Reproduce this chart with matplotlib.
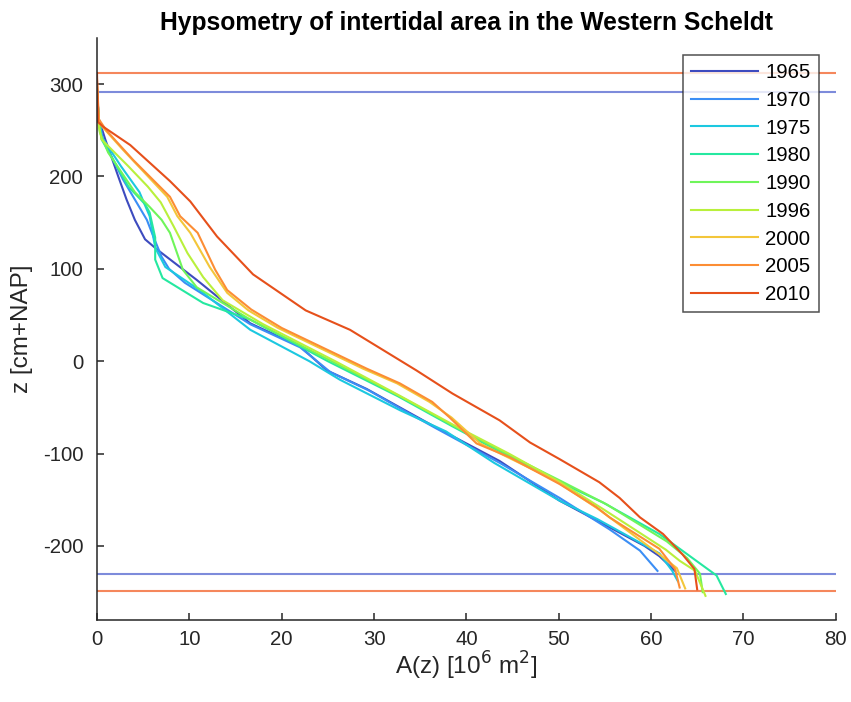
import matplotlib
matplotlib.use("Agg")
import matplotlib.pyplot as plt

plt.rcParams['font.family'] = ['Liberation Sans', 'DejaVu Sans']
plt.rcParams['axes.unicode_minus'] = False

years = ["1965", "1970", "1975", "1980", "1990", "1996", "2000", "2005", "2010"]
colors = ["#3d4bbf", "#3b8ef5", "#1cc8e0", "#25e8a0", "#6ff55a",
          "#b9f03c", "#f3c63a", "#fc8d34", "#e6501b"]

z_1965 = [291, 262, 240, 200, 175, 153, 132, 121, 88, 41, 16, -10, -30, -50, -70, -108, -151, -200, -211, -227]
a_1965 = [0, 0.2, 0.9, 2.3, 3.2, 4.1, 5.2, 6.5, 10.8, 16.6, 22.0, 24.9, 29.2, 32.8, 36.4, 43.6, 50.1, 59.3, 60.9, 62.6]

z_1970 = [291, 262, 240, 197, 175, 153, 135, 113, 100, 85, 40, 15, -12, -32, -52, -72, -110, -148, -182, -205, -227]
a_1970 = [0, 0.2, 0.65, 2.8, 4.1, 5.4, 6.1, 7.0, 7.8, 9.5, 16.6, 22.0, 25.3, 29.5, 33.0, 36.6, 43.6, 50.1, 55.5, 58.8, 60.7]

z_1975 = [291, 262, 243, 211, 183, 157, 123, 102, 77, 34, 0, -20, -53, -76, -110, -151, -171, -208, -227, -238]
a_1975 = [0, 0.2, 0.5, 2.6, 4.6, 5.7, 6.3, 7.4, 11.1, 16.6, 23.0, 26.3, 32.8, 37.8, 43.0, 50.1, 54.2, 60.9, 62.3, 62.9]

z_1980 = [291, 262, 240, 189, 170, 161, 134, 110, 90, 63, 45, 0, -38, -70, -100, -131, -153, -187, -232, -252]
a_1980 = [0, 0.2, 0.5, 3.4, 5.2, 5.7, 6.3, 6.3, 7.1, 11.5, 16.6, 25.0, 32.6, 38.4, 44.0, 50.1, 54.8, 60.9, 67.1, 68.1]

z_1990 = [295, 255, 248, 226, 183, 167, 153, 139, 99, 80, 45, 0, -38, -70, -100, -129, -155, -195, -213, -230, -250]
a_1990 = [0, 0.2, 0.3, 1.2, 4.1, 5.7, 7.0, 7.9, 9.3, 10.8, 16.6, 25.4, 32.8, 38.6, 44.3, 50.1, 55.2, 61.7, 63.9, 65.3, 65.6]

z_1996 = [295, 255, 240, 211, 189, 172, 146, 117, 91, 66, 40, 0, -38, -70, -100, -130, -160, -204, -216, -227, -235, -254]
a_1996 = [0, 0.2, 0.5, 3.4, 5.5, 6.9, 8.3, 9.8, 11.5, 13.6, 18.0, 25.8, 32.9, 38.8, 44.6, 50.0, 54.8, 61.6, 63.1, 64.8, 65.1, 65.9]

z_2000 = [300, 258, 229, 178, 157, 139, 102, 74, 55, 36, -8, -24, -44, -61, -89, -104, -129, -160, -209, -224, -246]
a_2000 = [0, 0.2, 2.8, 7.6, 8.7, 10.1, 12.2, 14.1, 16.4, 19.6, 28.8, 32.5, 36.0, 38.4, 41.5, 44.5, 49.6, 54.3, 60.9, 62.8, 63.7]

z_2005 = [305, 262, 250, 218, 178, 157, 139, 99, 77, 56, 36, -8, -24, -44, -61, -89, -104, -133, -158, -169, -203, -225, -245]
a_2005 = [0, 0.2, 1.0, 3.9, 7.9, 9.0, 10.9, 12.8, 14.1, 16.7, 20.0, 29.2, 32.8, 36.3, 38.2, 41.1, 44.7, 50.1, 54.1, 55.5, 60.9, 62.6, 63.1]

z_2010 = [312, 259, 254, 234, 195, 173, 135, 94, 55, 34, 12, -10, -35, -64, -88, -106, -131, -148, -169, -187, -209, -225, -247]
a_2010 = [0, 0.1, 0.65, 3.6, 7.9, 10.1, 13.0, 16.9, 22.6, 27.4, 31.0, 34.6, 38.5, 43.6, 46.9, 50.1, 54.4, 56.6, 58.8, 61.3, 63.4, 64.7, 65.0]

z_series = [z_1965, z_1970, z_1975, z_1980, z_1990, z_1996, z_2000, z_2005, z_2010]
a_series = [a_1965, a_1970, a_1975, a_1980, a_1990, a_1996, a_2000, a_2005, a_2010]

# reference levels (horizontal lines)
levels_blue = [291, -230]
levels_orange = [312, -249]

fig = plt.figure(figsize=(8.51, 7.02), dpi=100)
ax = fig.add_axes([0.114, 0.117, 0.868, 0.829])

for lv in levels_orange:
    ax.axhline(lv, color="#f47a4a", lw=1.5, alpha=0.9, zorder=1)
for lv in levels_blue:
    ax.axhline(lv, color="#6f7fd8", lw=1.5, alpha=0.9, zorder=1)

for yr, c, a, z in zip(years, colors, a_series, z_series):
    ax.plot(a, z, color=c, lw=1.5, label=yr, zorder=2)

ax.set_xlim(0, 80)
ax.set_ylim(-280, 350)
ax.set_xticks(range(0, 81, 10))
ax.set_yticks(range(-200, 301, 100))

for s in ["top", "right"]:
    ax.spines[s].set_visible(False)
for s in ["left", "bottom"]:
    ax.spines[s].set_color("#262626")
    ax.spines[s].set_linewidth(1.1)
ax.tick_params(direction="in", length=5, width=1.1, colors="#262626",
               labelsize=14.7)
ax.tick_params(axis="y", pad=10)
ax.tick_params(axis="x", pad=7)

ax.set_xlabel("A(z) [10$^6$ m$^2$]", fontsize=17.5, color="#262626", labelpad=1)
ax.set_ylabel("z [cm+NAP]", fontsize=17.5, color="#262626", labelpad=7)
ax.set_title("Hypsometry of intertidal area in the Western Scheldt",
             fontsize=17.7, fontweight="bold", pad=6)

leg = ax.legend(loc="upper right", bbox_to_anchor=(0.977, 0.971), fontsize=14.7,
                frameon=True, fancybox=False, edgecolor="#262626",
                handlelength=3.3, handletextpad=0.35, labelspacing=0.43,
                borderpad=0.4, borderaxespad=0)
leg.get_frame().set_linewidth(1.1)

fig.savefig("out.png", dpi=100)
